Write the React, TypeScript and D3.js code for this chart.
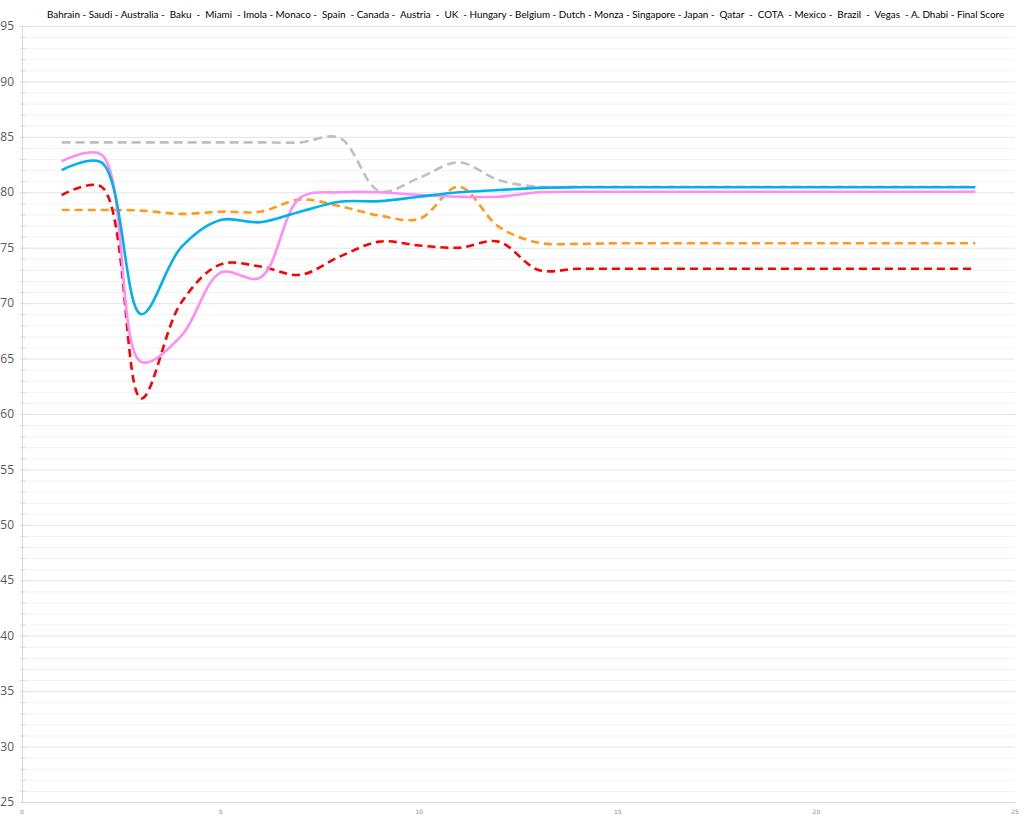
import React, {useEffect, useRef} from 'react';
import * as d3 from 'd3';

const races = [1, 2, 3, 4, 5, 6, 7, 8, 9, 10, 11, 12, 13, 14, 15, 16, 17, 18, 19, 20, 21, 22, 23, 24];
const grayScores = [84.5, 84.5, 84.5, 84.5, 84.5, 84.5, 84.5, 84.9, 80.1, 81.3, 82.7, 81.1, 80.5, 80.5, 80.5, 80.5, 80.5, 80.5, 80.5, 80.5, 80.5, 80.5, 80.5, 80.5];
const orangeScores = [78.4, 78.4, 78.35, 78.05, 78.25, 78.25, 79.35, 78.75, 77.9, 77.6, 80.5, 76.9, 75.45, 75.35, 75.4, 75.4, 75.4, 75.4, 75.4, 75.4, 75.4, 75.4, 75.4, 75.4];
const redScores = [79.75, 80.5, 61.4, 70.0, 73.5, 73.3, 72.55, 74.2, 75.55, 75.2, 75.0, 75.55, 73.0, 73.1, 73.1, 73.1, 73.1, 73.1, 73.1, 73.1, 73.1, 73.1, 73.1, 73.1];
const pinkScores = [82.8, 83.4, 64.7, 67.0, 72.75, 72.3, 79.5, 80.0, 80.0, 79.75, 79.6, 79.6, 80.0, 80.05, 80.05, 80.05, 80.05, 80.05, 80.05, 80.05, 80.05, 80.05, 80.05, 80.05];
const blueScores = [82.0, 82.7, 69.0, 75.0, 77.5, 77.3, 78.25, 79.15, 79.2, 79.6, 80.0, 80.2, 80.4, 80.45, 80.45, 80.45, 80.45, 80.45, 80.45, 80.45, 80.45, 80.45, 80.45, 80.45];

const series = [
  {name: 'gray', values: grayScores, color: '#bfbfbf', dash: '9,5'},
  {name: 'orange', values: orangeScores, color: '#ff9a1a', dash: '8,5'},
  {name: 'red', values: redScores, color: '#ff0000', dash: '8,5'},
  {name: 'pink', values: pinkScores, color: '#ff8cf7', dash: null},
  {name: 'blue', values: blueScores, color: '#00b0f0', dash: null},
];

const title = 'Bahrain - Saudi - Australia -  Baku  -  Miami  - Imola - Monaco -  Spain  - Canada -  Austria  -  UK  - Hungary - Belgium - Dutch - Monza - Singapore - Japan -  Qatar  -  COTA  - Mexico -  Brazil  -  Vegas  - A. Dhabi - Final Score';

function ScoreChart() {
  const chartRef = useRef(null);

  const width = 1024;
  const height = 836;
  const margin = {top: 26, right: 9, bottom: 34, left: 22};

  const xScale = d3.scaleLinear().domain([0, 25]).range([margin.left, width - margin.right]);
  const yScale = d3.scaleLinear().domain([25, 95]).range([height - margin.bottom, margin.top]);

  useEffect(() => {
    const svg = d3.select(chartRef.current);
    svg.selectAll('*').remove();

    // minor gridlines
    svg.append('g')
      .selectAll('line')
      .data(d3.range(25, 96, 1).filter(v => v % 5 !== 0))
      .enter()
      .append('line')
      .attr('x1', xScale(0))
      .attr('x2', xScale(25))
      .attr('y1', d => yScale(d) + 0.5)
      .attr('y2', d => yScale(d) + 0.5)
      .attr('stroke', '#f2f2f2')
      .attr('stroke-width', 1);

    // major gridlines
    svg.append('g')
      .selectAll('line')
      .data(d3.range(30, 96, 5))
      .enter()
      .append('line')
      .attr('x1', xScale(0))
      .attr('x2', xScale(25))
      .attr('y1', d => yScale(d) + 0.5)
      .attr('y2', d => yScale(d) + 0.5)
      .attr('stroke', '#e3e3e3')
      .attr('stroke-width', 1);

    // y axis
    const yAxis = svg.append('g');
    yAxis.append('line')
      .attr('x1', xScale(0) + 0.5)
      .attr('x2', xScale(0) + 0.5)
      .attr('y1', yScale(95))
      .attr('y2', yScale(25))
      .attr('stroke', '#d9d9d9');
    yAxis.selectAll('.minor')
      .data(d3.range(25, 96, 1))
      .enter()
      .append('line')
      .attr('x1', xScale(0) - 2)
      .attr('x2', xScale(0) + 3)
      .attr('y1', d => yScale(d) + 0.5)
      .attr('y2', d => yScale(d) + 0.5)
      .attr('stroke', '#d9d9d9');
    yAxis.selectAll('text')
      .data(d3.range(25, 96, 5))
      .enter()
      .append('text')
      .attr('x', 14)
      .attr('y', d => yScale(d))
      .attr('dy', '0.35em')
      .attr('text-anchor', 'end')
      .attr('fill', '#595959')
      .attr('font-size', 12)
      .attr('font-family', 'Open Sans, sans-serif')
      .text(d => d);

    // x axis
    const xAxis = svg.append('g');
    xAxis.append('line')
      .attr('x1', xScale(0))
      .attr('x2', xScale(25))
      .attr('y1', yScale(25) + 0.5)
      .attr('y2', yScale(25) + 0.5)
      .attr('stroke', '#d9d9d9');
    xAxis.selectAll('text')
      .data(d3.range(0, 26, 5))
      .enter()
      .append('text')
      .attr('x', d => xScale(d))
      .attr('y', yScale(25) + 12)
      .attr('text-anchor', 'middle')
      .attr('fill', '#8c8c8c')
      .attr('font-size', 6)
      .attr('font-family', 'DejaVu Sans, sans-serif')
      .text(d => d);

    // lines
    const line = d3.line<number>()
      .x((d, i) => xScale(races[i]))
      .y(d => yScale(d))
      .curve(d3.curveCatmullRom.alpha(0.5));

    series.forEach(s => {
      svg.append('path')
        .datum(s.values)
        .attr('d', line)
        .attr('fill', 'none')
        .attr('stroke', s.color)
        .attr('stroke-width', 2.6)
        .attr('stroke-dasharray', s.dash)
        .attr('stroke-linejoin', 'round');
    });

    // title, sized so it spans the same width as the original
    const titleText = svg.append('text')
      .attr('x', 47)
      .attr('y', 18)
      .attr('fill', '#000')
      .attr('font-size', 11)
      .attr('font-family', 'Lato, sans-serif')
      .style('white-space', 'pre')
      .text(title);
    const node = titleText.node() as SVGTextElement;
    const natural = node.getComputedTextLength();
    if (natural > 0) titleText.attr('font-size', 11 * 958 / natural);
  });

  return (
    <div style={{position: 'absolute', left: 0, top: 0, width, height, background: '#fff'}}>
      <svg ref={chartRef} width={width} height={height}/>
    </div>
  );
}

export default function App() {
  return <ScoreChart/>;
}
